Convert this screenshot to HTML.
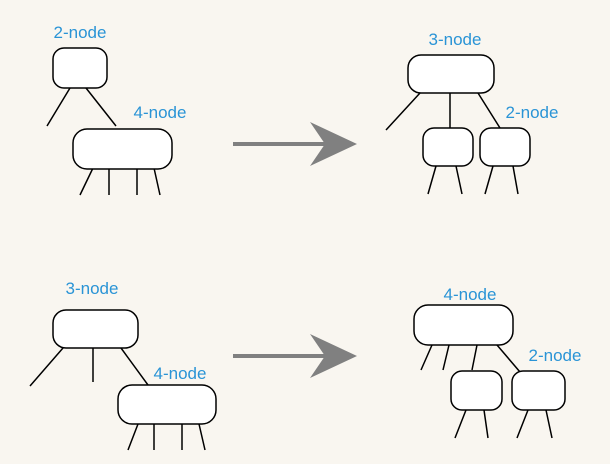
<!DOCTYPE html>
<html><head><style>html,body{margin:0;padding:0;background:#f9f6f0}</style></head><body>
<svg width="610" height="464" xmlns="http://www.w3.org/2000/svg" style="display:block">
<rect width="610" height="464" fill="#f9f6f0"/>
<g font-family="Liberation Sans, sans-serif" font-size="17" fill="#2a94d6" text-anchor="middle">
<text x="80" y="38">2-node</text>
<text x="160" y="118">4-node</text>
<text x="455" y="45">3-node</text>
<text x="532" y="118">2-node</text>
<text x="92" y="294">3-node</text>
<text x="180" y="379">4-node</text>
<text x="470" y="300">4-node</text>
<text x="555" y="361">2-node</text>
</g>
<g stroke="#000" stroke-width="1.5" fill="none">
<path d="M70 88L47 126M86 88L116 126M93 168L80 195M109 168V195M137 168V195M154 168L160 195"/>
<path d="M420 93L386 130M450 93V128M478 93L500 128M436 166L428 194M456 166L462 194M493 166L485 194M513 166L518 194"/>
<path d="M63 348L30 386M93 348V382M121 348L148 385M138 424L128 450M154 424V450M182 424V450M199 424L205 450"/>
<path d="M432 345L421 370M449 345L443 370M477 345L472 370M497 345L520 372M466 410L455 438M484 410L488 438M528 410L517 438M546 410L552 438"/>
</g>
<g stroke="#000" stroke-width="1.5" fill="#fff">
<rect x="53" y="48" width="54" height="40" rx="11"/>
<rect x="73" y="129" width="99" height="40" rx="14"/>
<rect x="408" y="55" width="86" height="38" rx="13"/>
<rect x="423" y="128" width="50" height="38" rx="11"/>
<rect x="480" y="128" width="50" height="38" rx="11"/>
<rect x="53" y="310" width="85" height="38" rx="13"/>
<rect x="118" y="385" width="98" height="39" rx="14"/>
<rect x="414" y="305" width="99" height="40" rx="14"/>
<rect x="451" y="371" width="51" height="39" rx="11"/>
<rect x="512" y="371" width="53" height="39" rx="11"/>
</g>
<g fill="#808080">
<rect x="233" y="142" width="100" height="4"/>
<path d="M310 122L357 144L310 166L325 144Z"/>
<rect x="233" y="354" width="100" height="4"/>
<path d="M310 334L357 356L310 378L325 356Z"/>
</g>
</svg>
</body></html>
